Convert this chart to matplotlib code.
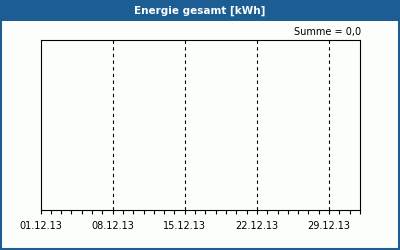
import numpy as np
import pandas as pd
import matplotlib
matplotlib.use("Agg")
import matplotlib.pyplot as plt
import matplotlib.dates as mdates
from matplotlib.patches import Rectangle

title = "Energie gesamt [kWh]"
summe_label = "Summe = 0,0"
days = pd.date_range("2013-12-01", "2013-12-31", freq="D")
values = [0.0] * len(days)  # no energy recorded in December
x_start = pd.Timestamp("2013-12-01")
x_end = pd.Timestamp("2014-01-01")
major_dates = pd.to_datetime(["2013-12-01", "2013-12-08", "2013-12-15", "2013-12-22", "2013-12-29"])

blue = "#1c5e94"
bg = "#fcfefc"

fig = plt.figure(figsize=(4, 2.5), dpi=100, facecolor=bg)

# header bar and frame around the whole picture
fig.patches.append(Rectangle((0, 1 - 21 / 250), 1, 21 / 250, transform=fig.transFigure,
                             facecolor=blue, edgecolor="none", zorder=0))
fig.patches.append(Rectangle((1 / 400, 1 / 250), 398 / 400, 248 / 250, transform=fig.transFigure,
                             facecolor="none", edgecolor=blue, linewidth=1.5, zorder=1))
fig.text(0.5, 1 - 10.5 / 250, title, color="white", fontsize=7.5, fontweight="bold",
         ha="center", va="center")

ax = fig.add_axes([40.5 / 400, 40 / 250, 319.5 / 400, 170 / 250])
ax.set_facecolor(bg)
ax.bar(days, values, width=0.8, color=blue)
ax.set_xlim(x_start, x_end)
ax.set_ylim(0, 1)
ax.set_yticks([])

for d in major_dates[1:]:
    ax.axvline(d, color="black", linewidth=0.8, linestyle=(0, (3, 3)))

ax.set_xticks(major_dates)
ax.xaxis.set_major_formatter(mdates.DateFormatter("%d.%m.%y"))
ax.xaxis.set_minor_locator(mdates.DayLocator())
ax.tick_params(axis="x", which="both", length=3, width=0.8, direction="out",
               labelsize=7, pad=5)
for s in ax.spines.values():
    s.set_linewidth(0.8)

fig.text(361 / 400, 1 - 32 / 250, summe_label, fontsize=7, ha="right", va="center")

fig.savefig("out.png", dpi=100, facecolor=bg)
